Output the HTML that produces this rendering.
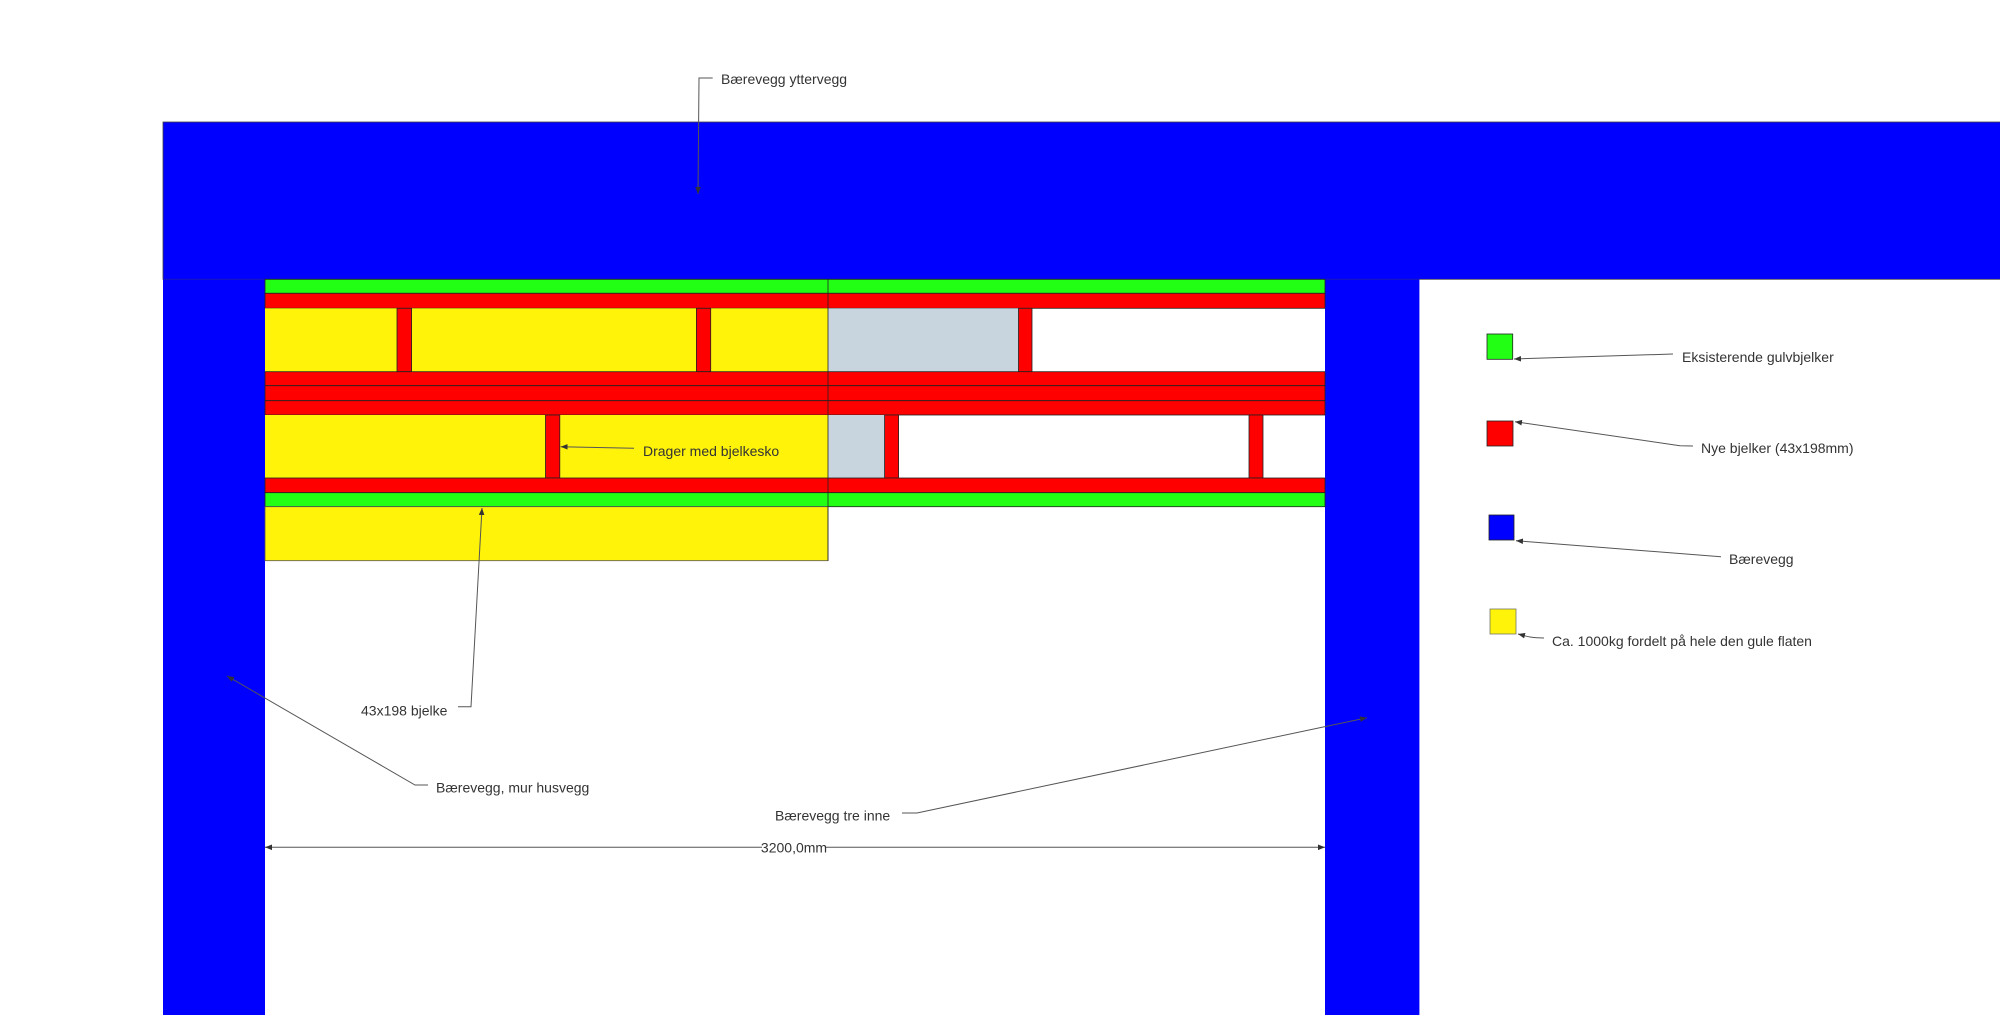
<!DOCTYPE html>
<html><head><meta charset="utf-8"><style>
html,body{margin:0;padding:0;background:#fff;}
svg{display:block;}
text{font-family:"Liberation Sans",sans-serif;font-size:14px;fill:#333;}
</style></head><body>
<svg width="2000" height="1015" viewBox="0 0 2000 1015" xmlns="http://www.w3.org/2000/svg">
<defs>
<marker id="a" viewBox="0 0 10 10" refX="10" refY="5" markerWidth="7" markerHeight="7" orient="auto-start-reverse"><path d="M0,1 L10,5 L0,9 z" fill="#333"/></marker>
</defs>
<g stroke="#222" stroke-width="0.8">
<rect x="163" y="122" width="1840" height="157.3" fill="#0000ff" stroke="#444"/>
<rect x="163" y="279.3" width="102" height="740" fill="#0000ff" stroke="none"/>
<rect x="1325" y="279.3" width="94.4" height="740" fill="#0000ff" stroke="none"/>
<rect x="265" y="279.3" width="1060" height="14" fill="#22ff14"/>
<rect x="265" y="293.3" width="1060" height="15" fill="#ff0000"/>
<rect x="265" y="308.3" width="563" height="63.4" fill="#fff30a" stroke="none"/>
<rect x="828" y="308.3" width="190.5" height="63.4" fill="#c8d4de" stroke="none"/>
<rect x="397" y="308.3" width="14.6" height="63.4" fill="#ff0000"/>
<rect x="696.4" y="308.3" width="14.3" height="63.4" fill="#ff0000"/>
<rect x="1018.5" y="308.3" width="13.5" height="63.4" fill="#ff0000"/>
<rect x="265" y="371.7" width="1060" height="14" fill="#ff0000"/>
<rect x="265" y="385.7" width="1060" height="15" fill="#ff0000"/>
<rect x="265" y="400.7" width="1060" height="14.3" fill="#ff0000"/>
<rect x="265" y="415" width="563" height="63" fill="#fff30a" stroke="none"/>
<rect x="828" y="415" width="56.6" height="63" fill="#c8d4de" stroke="none"/>
<rect x="545.5" y="415" width="14.3" height="63" fill="#ff0000"/>
<rect x="884.6" y="415" width="14" height="63" fill="#ff0000"/>
<rect x="1249" y="415" width="14" height="63" fill="#ff0000"/>
<rect x="265" y="478" width="1060" height="14.7" fill="#ff0000"/>
<rect x="265" y="492.7" width="1060" height="14" fill="#22ff14"/>
<rect x="265" y="506.7" width="563" height="54" fill="#fff30a" stroke="#555"/>
<line x1="828" y1="279.3" x2="828" y2="560.7"/>
<rect x="1487" y="334" width="25.7" height="25.3" fill="#22ff14"/>
<rect x="1487" y="421" width="26" height="25" fill="#ff0000"/>
<rect x="1489" y="515" width="25" height="25" fill="#0000ff"/>
<rect x="1490" y="609" width="26" height="25" fill="#fff30a" stroke="#776"/>
</g>
<g stroke="#555" stroke-width="1" fill="none">
<polyline points="712.7,78 699,78 698,194" marker-end="url(#a)"/>
<line x1="634" y1="448.3" x2="560.7" y2="446.7" marker-end="url(#a)"/>
<polyline points="458,706.7 471,706.7 482,508" marker-end="url(#a)"/>
<polyline points="428,785 415,785 227,676" marker-end="url(#a)"/>
<polyline points="902,813 917,813 1367,717.7" marker-end="url(#a)"/>
<line x1="1673" y1="354" x2="1514" y2="359" marker-end="url(#a)"/>
<polyline points="1693,446 1680,445.7 1515,421.7" marker-end="url(#a)"/>
<line x1="1721" y1="556.7" x2="1516" y2="540.7" marker-end="url(#a)"/>
<path d="M1544,638 C1530,638 1526,636 1518,634" marker-end="url(#a)"/>
<line x1="265" y1="847.3" x2="1325" y2="847.3" marker-start="url(#a)" marker-end="url(#a)"/>
</g>
<rect x="762" y="840" width="64" height="16" fill="#fff"/>
<text x="721" y="84">Bærevegg yttervegg</text>
<text x="643" y="456">Drager med bjelkesko</text>
<text x="361" y="715.5">43x198 bjelke</text>
<text x="436" y="792.5">Bærevegg, mur husvegg</text>
<text x="775" y="820.5">Bærevegg tre inne</text>
<text x="794" y="852.5" text-anchor="middle">3200,0mm</text>
<text x="1682" y="362">Eksisterende gulvbjelker</text>
<text x="1701" y="453">Nye bjelker (43x198mm)</text>
<text x="1729" y="564">Bærevegg</text>
<text x="1552" y="646">Ca. 1000kg fordelt på hele den gule flaten</text>
</svg>
</body></html>
